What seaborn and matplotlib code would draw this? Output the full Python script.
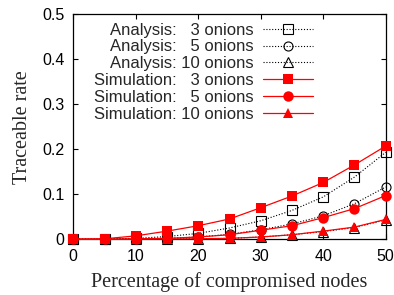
import matplotlib
matplotlib.use("Agg")
import matplotlib.pyplot as plt
import seaborn as sns
import pandas as pd

# ---- data ----
compromised = [0, 5, 10, 15, 20, 25, 30, 35, 40, 45, 50]
analysis_3 = [0.0, 0.0005, 0.002, 0.006, 0.013, 0.025, 0.041, 0.064, 0.094, 0.138, 0.193]
analysis_5 = [0.0, 0.0, 0.001, 0.002, 0.005, 0.011, 0.021, 0.034, 0.052, 0.079, 0.116]
analysis_10 = [0.0, 0.0, 0.0, 0.0005, 0.001, 0.002, 0.005, 0.010, 0.017, 0.026, 0.043]
sim_3 = [0.0, 0.001, 0.0075, 0.018, 0.030, 0.045, 0.070, 0.096, 0.126, 0.165, 0.207]
sim_5 = [0.0, 0.0, 0.001, 0.002, 0.005, 0.010, 0.020, 0.030, 0.048, 0.068, 0.097]
sim_10 = [0.0, 0.0, 0.0, 0.0005, 0.001, 0.002, 0.005, 0.010, 0.018, 0.027, 0.044]
labels = ["Analysis:   3 onions", "Analysis:   5 onions", "Analysis: 10 onions",
          "Simulation:   3 onions", "Simulation:   5 onions", "Simulation: 10 onions"]
x_ticks = [0, 10, 20, 30, 40, 50]
y_ticks = [0, 0.1, 0.2, 0.3, 0.4, 0.5]
y_ticklabels = ["0", "0.1", "0.2", "0.3", "0.4", "0.5"]

sns.set_style("ticks")
plt.rcParams["font.family"] = ["Liberation Sans", "DejaVu Sans"]
plt.rcParams["xtick.direction"] = "in"
plt.rcParams["ytick.direction"] = "in"
plt.rcParams["xtick.top"] = True
plt.rcParams["ytick.right"] = True

fig = plt.figure(figsize=(3.94, 2.95), dpi=100)
ax = fig.add_axes([0.186, 0.189, 0.793, 0.7635])

series = [analysis_3, analysis_5, analysis_10, sim_3, sim_5, sim_10]
markers = ["s", "o", "^", "s", "o", "^"]
msizes = [6.5, 6.5, 6.5, 7.8, 7.5, 7.0]
for i, (vals, lab) in enumerate(zip(series, labels)):
    df = pd.DataFrame({"x": compromised, "y": vals})
    if i < 3:
        sns.lineplot(data=df, x="x", y="y", ax=ax, label=lab, color="black",
                     linestyle=(0, (1, 1.6)), linewidth=0.8, marker=markers[i],
                     markersize=msizes[i], markerfacecolor="none",
                     markeredgecolor="black", markeredgewidth=0.8,
                     clip_on=False, zorder=2)
    else:
        sns.lineplot(data=df, x="x", y="y", ax=ax, label=lab, color="#ff0000",
                     linestyle="-", linewidth=0.9, marker=markers[i],
                     markersize=msizes[i], markerfacecolor="#ff0000",
                     markeredgecolor="#ff0000", markeredgewidth=0,
                     clip_on=False, zorder=3)

ax.set_xlim(0, 50)
ax.set_ylim(0, 0.5)
ax.set_xticks(x_ticks)
ax.set_xticklabels([str(v) for v in x_ticks])
ax.set_yticks(y_ticks)
ax.set_yticklabels(y_ticklabels)
ax.tick_params(axis="both", length=3.5, width=0.8, labelsize=11.5, colors="black")
ax.tick_params(axis="x", pad=7)
ax.tick_params(axis="y", pad=6.5)
for s in ax.spines.values():
    s.set_linewidth(0.9)
    s.set_color("black")

ax.set_xlabel("Percentage of compromised nodes", family="Liberation Serif", fontsize=14.5, labelpad=6)
ax.set_ylabel("Traceable rate", family="Liberation Serif", fontsize=14.5, labelpad=7)

leg = ax.legend(loc="upper right", bbox_to_anchor=(0.767, 0.962), frameon=False,
                markerfirst=False, fontsize=12, handlelength=3.0, handletextpad=0.55,
                labelspacing=0.11, borderpad=0, borderaxespad=0)

fig.savefig("out.png", dpi=100)
